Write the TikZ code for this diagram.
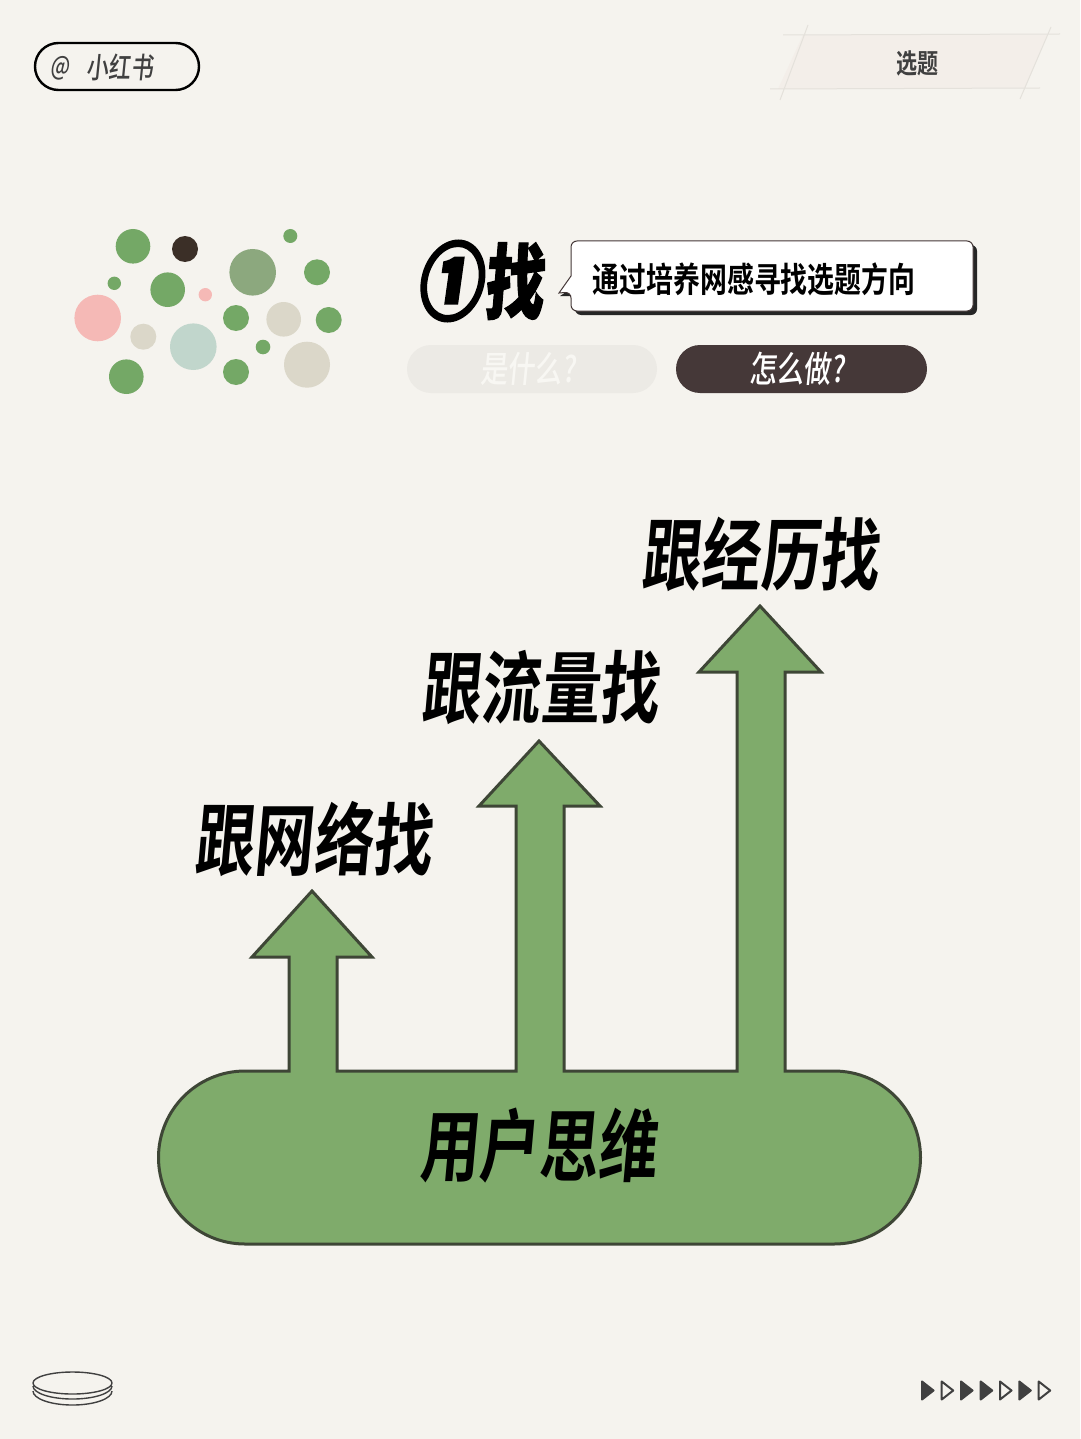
\documentclass[tikz,border=0pt]{standalone}
\usepackage{fontspec}
\setmainfont{Noto Sans CJK SC}
\newfontfamily\heavycjk[FakeSlant=0.09,FakeStretch=0.75]{Noto Sans CJK SC Bold}
\newfontfamily\headcirc[FakeSlant=0.14,FakeStretch=0.76,FakeBold=5]{Noto Sans CJK SC Black}
\newfontfamily\headzh[FakeSlant=0.08,FakeStretch=0.72,FakeBold=1.5]{Noto Sans CJK SC Black}
\newfontfamily\medcjk[FakeStretch=0.78]{Noto Sans CJK SC Bold}
\newfontfamily\lightcjk[FakeSlant=0.10,FakeStretch=0.76]{Noto Sans CJK SC Medium}
\definecolor{paper}{HTML}{F5F3EE}
\definecolor{leaf}{HTML}{7FAB6B}
\definecolor{dotgreen}{HTML}{74A866}
\definecolor{sage}{HTML}{8CA87E}
\definecolor{dotink}{HTML}{3B2F27}
\definecolor{rosy}{HTML}{F5B9B6}
\definecolor{beige}{HTML}{DBD7C9}
\definecolor{mist}{HTML}{C1D6CC}
\definecolor{outline}{HTML}{3E4636}
\definecolor{umber}{HTML}{453838}
\definecolor{ghost}{HTML}{ECEAE5}
\definecolor{ghosttext}{HTML}{F8F7F3}
\definecolor{tape}{HTML}{F3EEE9}
\definecolor{tapeline}{HTML}{E4E1DB}
\definecolor{ink}{HTML}{404040}
\tikzset{
  arrowshape/.style={fill=leaf,draw=outline,line width=3pt,line join=miter},
  bigtext/.style={font=\heavycjk\fontsize{79}{79}\selectfont,text=black,inner sep=0pt},
  pilltext/.style={font=\lightcjk\fontsize{36}{36}\selectfont,inner sep=0pt},
  tri/.style={draw=ink,line width=2pt,line join=round},
}
\begin{document}
\begin{tikzpicture}[x=1pt,y=-1pt]
\fill[paper] (0,0) rectangle (1080,1439);
\useasboundingbox (0,0) rectangle (1080,1439);
% logo pill
\draw[black,line width=2.4pt,rounded corners=23.5pt] (35,43) rectangle (199,90);
\node[font=\lightcjk\fontsize{26}{26}\selectfont,text=ink,inner sep=0pt] (at) at (60,68) {@};
\node[font=\lightcjk\fontsize{29}{29}\selectfont,text=ink,inner sep=0pt] (brand) at (120,67) {小红书};
% tape label
\fill[tape] (803,35) -- (1047,35) -- (1025,88) -- (778,89) -- cycle;
\draw[tapeline,line width=1pt] (783,35) -- (1060,34) (770,89) -- (1040,88) (808,25) -- (780,100) (1051,27) -- (1020,99);
\node[font=\medcjk\fontsize{27}{27}\selectfont,text=ink,inner sep=0pt] (tag) at (917.5,63) {选题};
% dots
\foreach \x/\y/\r/\c in {133/246.3/17.3/dotgreen,185/249/13/dotink,290.3/236/7/dotgreen,252.7/272.3/23.3/sage,317/272.3/13/dotgreen,114.3/283.3/6.7/dotgreen,167.7/289.7/17.3/dotgreen,205.3/294.7/6.7/rosy,97.7/318/23.3/rosy,236/318/13/dotgreen,283.7/319.3/17.3/beige,328.7/320/13/dotgreen,143.3/336.7/13/beige,193.3/346.7/23.3/mist,263/347/7.3/dotgreen,307/364.7/23/beige,126.3/376.7/17.3/dotgreen,236/372/13/dotgreen}
  \fill[\c] (\x,\y) circle[radius=\r];
% heading
\node[text=black,inner sep=0pt] (head) at (480,281) {{\headcirc\fontsize{83}{83}\selectfont ①}\hspace{4pt}{\headzh\fontsize{82}{82}\selectfont 找}};
% callout
\fill[black!85,rounded corners=6pt] (575,245) rectangle (977,315);
\fill[black!85] (560,296) -- (575,296) -- (575,286) -- cycle;
\draw[umber,line width=1pt,fill=white,rounded corners=6pt] (571,241) -- (973,241) -- (973,311) -- (571,311) -- (571,292) [sharp corners] -- (559,293) -- (571,276) [rounded corners=6pt] -- cycle;
\node[font=\medcjk\fontsize{34.5}{34.5}\selectfont,text=black,inner sep=0pt] (callout) at (754,279) {通过培养网感寻找选题方向};
% pills
\fill[ghost,rounded corners=24pt] (407,345) rectangle (657,393);
\fill[umber,rounded corners=24pt] (676,345) rectangle (927,393);
\node[pilltext,text=ghosttext] (whatis) at (528,369) {是什么?};
\node[pilltext,text=white] (howto) at (797,369) {怎么做?};
% arrows and base
\draw[arrowshape]
  (245,1071) -- (289,1071) -- (289,957) -- (252,957) -- (312,891) -- (372,957) -- (337,957) -- (337,1071)
  -- (516,1071) -- (516,806) -- (479,806) -- (539,741) -- (600,806) -- (564,806) -- (564,1071)
  -- (737,1071) -- (737,672) -- (699,672) -- (760,606) -- (821,672) -- (785,672) -- (785,1071)
  -- (834,1071) arc[start angle=-90,end angle=90,radius=86.5]
  -- (245,1244) arc[start angle=90,end angle=270,radius=86.5] -- cycle;
\node[bigtext] (t1) at (313,839) {跟网络找};
\node[bigtext] (t2) at (540,688) {跟流量找};
\node[bigtext] (t3) at (760,554) {跟经历找};
\node[bigtext] (t4) at (538,1146) {用户思维};
% stack
\draw[ink,line width=1.4pt] (33,1391) arc[start angle=180,end angle=0,x radius=39.5,y radius=14];
\draw[ink,line width=1.4pt] (33,1386) arc[start angle=180,end angle=0,x radius=39.5,y radius=13];
\draw[ink,line width=1.4pt,fill=paper] (72.5,1383) ellipse[x radius=39.5,y radius=11];
% triangles
\foreach \x/\c in {922/ink,941.7/paper,961/ink,980.7/ink,1000/paper,1019.3/ink,1038.7/paper}
  \draw[tri,fill=\c] (\x,1381.5) -- (\x+11.5,1390.5) -- (\x,1399.5) -- cycle;
\end{tikzpicture}
\end{document}
